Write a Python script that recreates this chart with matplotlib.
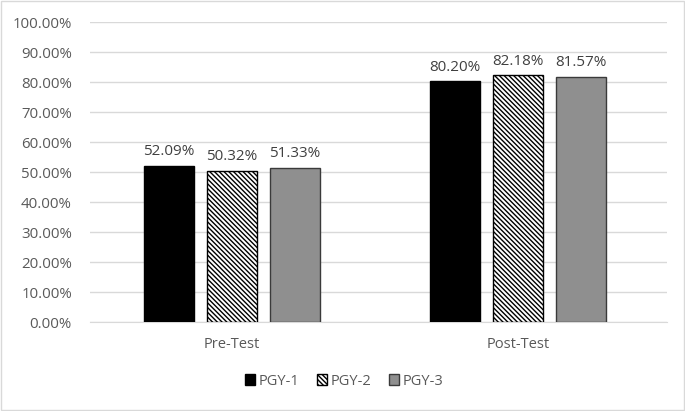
import matplotlib
matplotlib.use("Agg")
import matplotlib.pyplot as plt
import numpy as np
from matplotlib.patches import Rectangle

categories = ["Pre-Test", "Post-Test"]
series = ["PGY-1", "PGY-2", "PGY-3"]
pgy1 = [52.09, 80.20]
pgy2 = [50.32, 82.18]
pgy3 = [51.33, 81.57]
yticks = [0, 10, 20, 30, 40, 50, 60, 70, 80, 90, 100]

plt.rcParams['font.family'] = ['Open Sans', 'DejaVu Sans']
plt.rcParams['hatch.linewidth'] = 1.0
txt = '#595959'

fig = plt.figure(figsize=(6.85, 4.11), dpi=100)
fig.patches.append(Rectangle((0.002, 0.003), 0.996, 0.994, transform=fig.transFigure,
                             fill=False, edgecolor='#d9d9d9', linewidth=1.0))
ax = fig.add_axes([90/685, 1-322/411, (667-90)/685, 300/411])

x = np.arange(len(categories))
w = 0.175
off = 0.22
styles = [dict(color='black', edgecolor='black', hatch=None),
          dict(color='white', edgecolor='black', hatch='\\\\\\\\\\\\\\'),
          dict(color='#8f8f8f', edgecolor='#3a3a3a', hatch=None)]
for i, (vals, st) in enumerate(zip([pgy1, pgy2, pgy3], styles)):
    bars = ax.bar(x + (i-1)*off, vals, w, facecolor=st['color'], edgecolor=st['edgecolor'],
                  hatch=st['hatch'], linewidth=1.0, label=series[i], zorder=3)
    for b, v in zip(bars, vals):
        ax.text(b.get_x()+b.get_width()/2, v + 2.3, f"{v:.2f}%", ha='center', va='bottom',
                fontsize=11, color='#404040')

ax.set_xlim(-142/286, 435/286)
ax.set_ylim(0, 100)
ax.set_yticks(yticks)
ax.set_yticklabels([f"{t:.2f}%" for t in yticks], fontsize=10.8, color=txt)
ax.set_xticks(x)
ax.set_xticklabels(categories, fontsize=10.5, color=txt)
ax.tick_params(axis='both', length=0)
ax.tick_params(axis='y', pad=13)
ax.tick_params(axis='x', pad=11)
ax.grid(axis='y', color='#d9d9d9', linewidth=1.0, zorder=0)
for s in ['top', 'right', 'left']:
    ax.spines[s].set_visible(False)
ax.spines['bottom'].set_color('#d9d9d9')

leg = fig.legend(*ax.get_legend_handles_labels(), loc='center',
                 bbox_to_anchor=(344/685, 1-381/411), ncol=3, frameon=False,
                 fontsize=10.5, handlelength=0.7, handleheight=0.7, handletextpad=0.25,
                 columnspacing=1.2)
for t in leg.get_texts():
    t.set_color(txt)

fig.savefig("out.png", dpi=100)
